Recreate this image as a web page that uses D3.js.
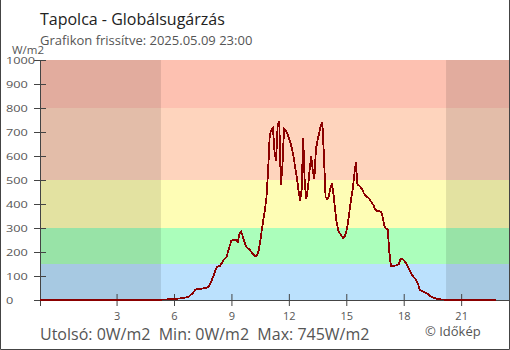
<!DOCTYPE html>
<html><head><meta charset="utf-8">
<script src="https://cdn.jsdelivr.net/npm/d3@7"></script>
<style>
body{margin:0;background:#fff}
text{font-family:"Open Sans",sans-serif}
</style>
</head><body>
<svg id="c" width="510" height="350"></svg>
<script>
// ---- data ----
const title = "Tapolca - Globálsugárzás";
const subtitle = "Grafikon frissítve: 2025.05.09 23:00";
const unitLabel = "W/m2";
const footerParts = ["Utolsó: 0W/m2", "Min: 0W/m2", "Max: 745W/m2"];
const credit = "© Időkép";
const startHour = -1;      // 23:00 of the previous day
const stepMinutes = 5;
// one row per hour, 5-minute readings (W/m2)
const values = [
  0,0,0,0,0,0,0,0,0,0,0,0,            // 23
  0,0,0,0,0,0,0,0,0,0,0,0,            // 0
  0,0,0,0,0,0,0,0,0,0,0,0,            // 1
  0,0,0,0,0,0,0,0,0,0,0,0,            // 2
  0,0,0,0,0,0,0,0,0,0,0,0,            // 3
  0,0,0,0,0,0,0,0,0,0,0,0,            // 4
  0,0,1,1,1,2,2,2,3,3,3,4,            // 5
  4,5,5,6,7,8,9,10,11,12,18,24,       // 6
  30,40,44,45,46,47,48,50,51,52,60,72, // 7
  88,105,125,137,140,142,155,166,174,180,205,227, // 8
  248,250,250,250,243,275,285,268,245,225,216,212, // 9
  205,195,188,182,185,205,240,290,335,375,430,540, // 10
  686,708,717,620,580,728,745,478,561,714,707,695, // 11
  675,655,630,595,550,510,460,415,460,675,480,423, // 12
  470,540,600,540,505,630,665,695,725,742,600,430, // 13
  420,430,465,486,440,375,320,290,278,268,258,265, // 14
  285,320,370,420,460,520,575,480,476,470,460,445, // 15
  435,430,425,415,405,395,380,372,370,370,365,340, // 16
  305,298,292,200,140,142,143,144,146,150,170,172, // 17
  165,158,145,135,122,106,98,90,80,67,42,38,       // 18
  35,33,30,26,20,15,11,8,7,5,4,3,                  // 19
  2,2,1,0,0,0,0,0,0,0,0,0,                         // 20
  0,0,0,0,0,0,0,0,0,0,0,0,                         // 21
  0,0,0,0,0,0,0,0,0,0,0                            // 22
];
const yTicks = [0,100,200,300,400,500,600,700,800,900,1000];
const xTicks = [3,6,9,12,15,18,21];
const bandEdges = [0,150,300,500,800,1000];
const xDomain = [-1, 23.5];
const sunrise = 5.32, sunset = 20.21;

// ---- styles ----
const bandColors = ["#bbe1fd","#abfebb","#fefdb5","#fed4bd","#fdc1b1"];
const axisColor = "#444";
const textGray = "#555";

const svg = d3.select("#c");
const x = d3.scaleLinear().domain(xDomain).range([40, 509]);
const y = d3.scaleLinear().domain([0, 1000]).range([300, 60]);

// bands
const bands = d3.pairs(bandEdges).map((p, i) => ({lo: p[0], hi: p[1], color: bandColors[i]}));
svg.append("g").selectAll("rect").data(bands).join("rect")
  .attr("x", x(xDomain[0])).attr("width", x(xDomain[1]) - x(xDomain[0]))
  .attr("y", d => y(d.hi)).attr("height", d => y(d.lo) - y(d.hi))
  .attr("fill", d => d.color);

// night shading
const nights = [[xDomain[0], sunrise], [sunset, xDomain[1]]];
svg.append("g").selectAll("rect").data(nights).join("rect")
  .attr("x", d => x(d[0])).attr("width", d => x(d[1]) - x(d[0]))
  .attr("y", y(1000)).attr("height", y(0) - y(1000))
  .attr("fill", "rgba(0,0,0,0.105)");

// x axis
const xAxis = svg.append("g").attr("transform", "translate(0,300)")
  .call(d3.axisBottom(x).tickValues(xTicks).tickFormat(d3.format("d")).tickSizeOuter(0).tickSize(6));
xAxis.select(".domain").remove();
xAxis.selectAll(".tick line").attr("y1", -6).attr("y2", 6).attr("stroke", axisColor);
xAxis.selectAll(".tick text").attr("y", 19.5).attr("dy", 0)
  .attr("fill", textGray).style("font-size", "11px").style("font-family", '"Open Sans",sans-serif');
svg.append("line").attr("x1", 34).attr("x2", 509).attr("y1", 300.5).attr("y2", 300.5)
  .attr("stroke", axisColor);

// y axis
const yAxis = svg.append("g").attr("transform", "translate(40,0)")
  .call(d3.axisLeft(y).tickValues(yTicks).tickFormat(d3.format("d")).tickSizeOuter(0).tickSize(6));
yAxis.select(".domain").remove();
yAxis.selectAll(".tick line").attr("x1", -6).attr("x2", 6).attr("stroke", axisColor);
yAxis.selectAll(".tick text").attr("x", 0).attr("dy", "0.36em")
  .attr("text-anchor", "start")
  .attr("transform", "translate(-34,0) scale(1.33,1)")
  .attr("fill", textGray).style("font-size", "9.6px").style("font-family", '"Open Sans",sans-serif');
svg.append("line").attr("x1", 40.5).attr("x2", 40.5).attr("y1", 60).attr("y2", 306)
  .attr("stroke", axisColor);

// data line
const line = d3.line()
  .x((d, i) => x(startHour + i * stepMinutes / 60))
  .y(d => y(d));
svg.append("path").datum(values)
  .attr("d", line).attr("fill", "none")
  .attr("stroke", "#8b0000").attr("stroke-width", 1.8)
  .attr("shape-rendering", "crispEdges");

// texts
svg.append("text").attr("x", 40).attr("y", 24.5).text(title)
  .attr("fill", "#222").style("font-size", "16px");
svg.append("text").attr("x", 40).attr("y", 44.5).text(subtitle)
  .attr("fill", textGray).style("font-size", "13px");
svg.append("text").attr("x", 12).attr("y", 54).text(unitLabel)
  .attr("fill", textGray).style("font-size", "11.5px");
svg.append("text").attr("x", 40).attr("y", 339.5)
  .attr("fill", textGray).style("font-size", "16px").style("white-space", "pre")
  .text(footerParts.join("  "));
svg.append("text").attr("x", 425).attr("y", 335.5).text(credit)
  .attr("fill", textGray).style("font-size", "13px");

// frame
svg.append("path").attr("d", "M0.5,0 V349.5 H509.5 V0")
  .attr("fill", "none").attr("stroke", axisColor);
</script>
</body></html>
